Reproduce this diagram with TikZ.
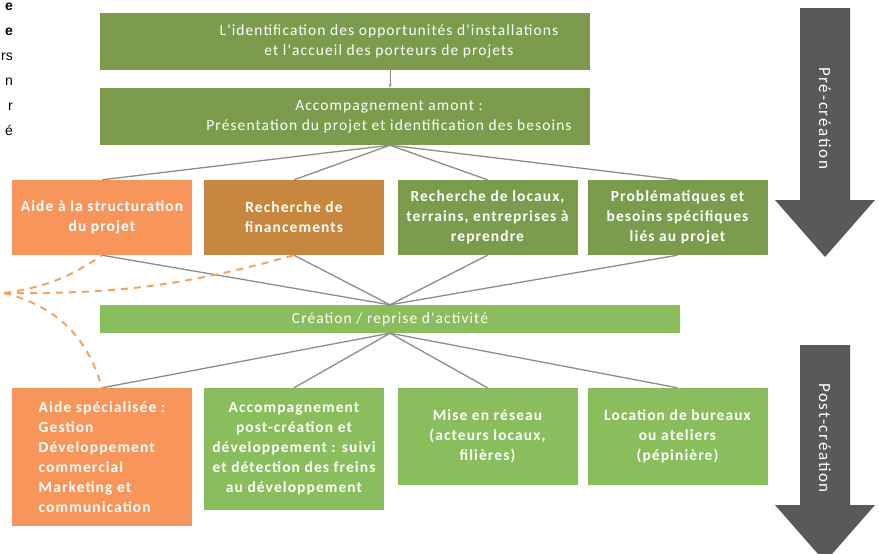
\documentclass[tikz,border=0pt]{standalone}
\usepackage{fontspec}
\setmainfont{Carlito}
\newfontfamily\sidefont{Liberation Sans}
\newfontfamily\boxfont{Carlito}[LetterSpace=7]
\newfontfamily\arrowfont{Carlito}[LetterSpace=10]
\usetikzlibrary{arrows.meta, positioning, calc}
\definecolor{olive}{HTML}{7A9C4C}
\definecolor{leaf}{HTML}{8ABE5C}
\definecolor{peach}{HTML}{F7955A}
\definecolor{rust}{HTML}{C8873F}
\definecolor{slate}{HTML}{595959}
\definecolor{wire}{HTML}{8C8C8C}
\definecolor{dashorange}{HTML}{F7A360}

\begin{document}
\begin{tikzpicture}[x=1pt, y=-1pt,
    box/.style={rectangle, text=white, align=center, inner sep=2pt,
        font=\boxfont\fontsize{15.5}{20}\selectfont},
    stage/.style={rectangle, fill=olive, minimum width=490, minimum height=57},
    task/.style={box, font=\boxfont\bfseries\fontsize{15.5}{20}\selectfont,
        minimum width=180, minimum height=75},
    link/.style={draw=wire, line width=1.3pt},
    dashlink/.style={draw=dashorange, line width=2pt, dash pattern=on 7pt off 6pt},
    bigarrow/.style={fill=slate},
    arrowlabel/.style={rotate=-90, text=white, font=\arrowfont\fontsize{17}{20}\selectfont}]
    \useasboundingbox (0,0) rectangle (879,554);
    \draw (13,3) node[anchor=north east, align=right, inner sep=0pt, font=\sidefont\fontsize{14}{25}\selectfont] (margin)
        {\textbf{e}\\\textbf{e}\\rs\\n\\r\\é};
    \draw (345,41) node[stage] (ident) {};
    \draw (389,41) node[box] (identtext) {L'identification des opportunités d'installations\\et l'accueil des porteurs de projets};
    \draw (345,116.5) node[stage] (amont) {};
    \draw (389,116.5) node[box] (amonttext) {Accompagnement amont :\\Présentation du projet et identification des besoins};
    \draw (102,217.5) node[task, fill=peach] (aide) {Aide à la structuration\\du projet};
    \draw (294,217.5) node[task, fill=rust] (fin) {Recherche de\\financements};
    \draw (487.5,217.5) node[task, fill=olive] (locaux) {Recherche de locaux,\\terrains, entreprises à\\reprendre};
    \draw (677.5,217.5) node[task, fill=olive] (besoins) {Problématiques et\\besoins spécifiques\\liés au projet};
    \draw (390,319) node[box, fill=leaf, minimum width=580, minimum height=28] (crea) {Création / reprise d'activité};
    \draw (102,457) node[task, fill=peach, minimum height=138, align=left] (spec) {Aide spécialisée :\\Gestion\\Développement\\commercial\\Marketing et\\communication};
    \draw (294,449) node[task, fill=leaf, minimum height=122] (suivi) {Accompagnement\\post-création et\\développement : suivi\\et détection des freins\\au développement};
    \draw (487.5,436.5) node[task, fill=leaf, minimum height=97] (reseau) {Mise en réseau\\(acteurs locaux,\\filières)};
    \draw (677.5,436.5) node[task, fill=leaf, minimum height=97] (pepin) {Location de bureaux\\ou ateliers\\(pépinière)};
    \coordinate (fan) at (amont.south -| crea.north);
    \coordinate (hub) at (4,293);
    \draw[wire, line width=1pt, -{Stealth[length=4pt]}] (ident.south -| crea.north) -- (amont.north -| crea.north);
    \path[link]
    (fan) edge (aide.north)
          edge (fin.north)
          edge (locaux.north)
          edge (besoins.north)
    (crea.north) edge (aide.south)
          edge (fin.south)
          edge (locaux.south)
          edge (besoins.south)
    (crea.south) edge (spec.north)
          edge (suivi.north)
          edge (reseau.north)
          edge (pepin.north);
    \path[dashlink]
    (hub) edge[bend right=13] (aide.south)
          edge[bend right=8] (fin.south)
          edge[bend left=30] (spec.north);
    \fill[bigarrow] (800,8) -- (850,8) -- (850,200) -- (875,200) -- (825,257) -- (775,200) -- (800,200) -- cycle;
    \fill[bigarrow] (800,345) -- (850,345) -- (850,505) -- (875,505) -- (825,562) -- (775,505) -- (800,505) -- cycle;
    \draw (825,118) node[arrowlabel] (pre) {Pré-création};
    \draw (825,438) node[arrowlabel] (post) {Post-création};
\end{tikzpicture}
\end{document}
